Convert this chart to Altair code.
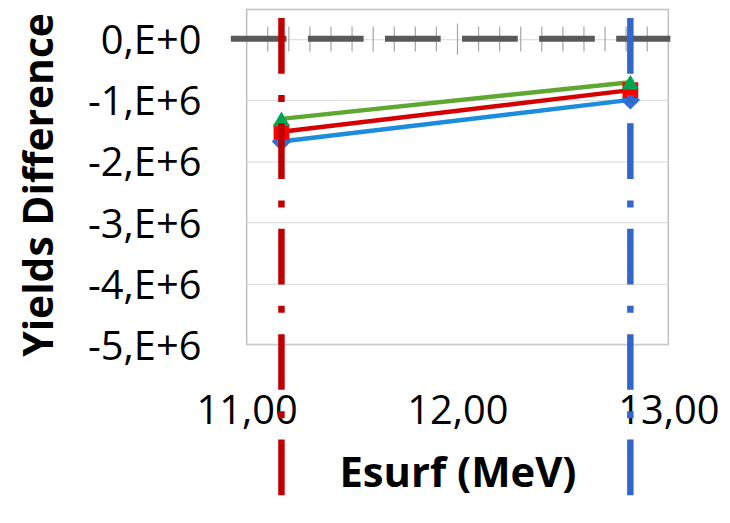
import altair as alt
import pandas as pd

# ---- data ----
x_energy = [11.165, 12.82]
blue_vals = [-1.68e6, -1.00e6]
red_vals = [-1.52e6, -0.84e6]
green_vals = [-1.31e6, -0.71e6]

y_ticks = [0, -1e6, -2e6, -3e6, -4e6, -5e6]
y_tick_labels = ["0,E+0", "-1,E+6", "-2,E+6", "-3,E+6", "-4,E+6", "-5,E+6"]
x_ticks = [11, 12, 13]
x_tick_labels = ["11,00", "12,00", "13,00"]

minor_ticks = [11.1, 11.2, 11.3, 11.4, 11.5, 11.6, 11.7, 11.8, 11.9,
               12.1, 12.2, 12.3, 12.4, 12.5, 12.6, 12.7, 12.8, 12.9]
major_ticks = [12]

ref_lines_x = [11.165, 12.82]
ref_lines_color = ["#C00000", "#3366CC"]
ref_lines_top = 0.34e6
ref_lines_bottom = -8.0e6

zero_line_x = [10.925, 13.01]
zero_value = 0

# ---- helpers ----
def label_expr(vals, labels):
    expr = "''"
    for v, lab in reversed(list(zip(vals, labels))):
        expr = f"(abs(datum.value - ({v})) < 1e-6 ? '{lab}' : {expr})"
    return expr

FONT = "Open Sans"

xscale = alt.Scale(domain=[11, 13], nice=False, zero=False)
yscale = alt.Scale(domain=[-5e6, 0.48e6], nice=False, zero=False)

xaxis = alt.Axis(
    values=x_ticks, labelExpr=label_expr(x_ticks, x_tick_labels),
    labelFont=FONT, labelFontSize=40, labelColor="#000000", labelPadding=47,
    ticks=False, domain=False, grid=False,
    labelOverlap=False, labelBound=False, labelFlush=False,
    title="Esurf (MeV)", titleFont=FONT, titleFontWeight="bold", titleFontSize=42,
    titleColor="#000000", titleBaseline="alphabetic", titleY=143, titleX=212,
)
yaxis = alt.Axis(
    values=y_ticks, labelExpr=label_expr(y_ticks, y_tick_labels),
    labelFont=FONT, labelFontSize=40, labelColor="#000000", labelPadding=46,
    labelOffset=3, labelOverlap=False, labelBound=False, labelFlush=False,
    ticks=False, domain=False, grid=True, gridColor="#D9D9D9", gridWidth=1,
    title="Yields Difference", titleFont=FONT, titleFontWeight="bold", titleFontSize=41,
    titleColor="#000000", titleAngle=270, titleAlign="center", titleBaseline="alphabetic",
    titleX=-195, titleY=176,
)

X = alt.X("x:Q", scale=xscale, axis=xaxis)
Y = alt.Y("y:Q", scale=yscale, axis=yaxis)

# axis tick marks crossing at y = 0
minor_df = pd.DataFrame({"x": minor_ticks, "y": [0.2e6] * len(minor_ticks),
                         "y2": [-0.21e6] * len(minor_ticks)})
major_df = pd.DataFrame({"x": major_ticks, "y": [0.25e6] * len(major_ticks),
                         "y2": [-0.26e6] * len(major_ticks)})
minor_layer = alt.Chart(minor_df).mark_rule(color="#A6A6A6", strokeWidth=1.2).encode(
    x=X, y=Y, y2="y2:Q")
major_layer = alt.Chart(major_df).mark_rule(color="#A6A6A6", strokeWidth=1.2).encode(
    x=X, y=Y, y2="y2:Q")

# dashed zero line
zero_df = pd.DataFrame({"x": [zero_line_x[0]], "x2": [zero_line_x[1]], "y": [zero_value]})
zero_layer = alt.Chart(zero_df).mark_rule(
    color="#595959", strokeWidth=6, strokeDash=[56, 21.5], clip=False, strokeCap="butt"
).encode(x=X, x2="x2:Q", y=Y)

layers = [minor_layer, major_layer, zero_layer]

series = [
    ("blue", blue_vals, "#1C8CDC", "#2F6FD2", "diamond", 380),
    ("red", red_vals, "#D40000", "#FF0000", "square", 250),
    ("green", green_vals, "#5EA832", "#00A651", "triangle-up", 300),
]
for name, vals, lcol, mcol, shape, size in series:
    df = pd.DataFrame({"x": x_energy, "y": vals})
    layers.append(alt.Chart(df).mark_line(color=lcol, strokeWidth=4.5).encode(x=X, y=Y))
for name, vals, lcol, mcol, shape, size in series:
    df = pd.DataFrame({"x": x_energy, "y": vals})
    layers.append(alt.Chart(df).mark_point(
        shape=shape, filled=True, size=size, color=mcol, opacity=1).encode(x=X, y=Y))

# vertical dash-dot reference lines
for xv, col in zip(ref_lines_x, ref_lines_color):
    df = pd.DataFrame({"x": [xv], "y": [ref_lines_top], "y2": [ref_lines_bottom]})
    layers.append(alt.Chart(df).mark_rule(
        color=col, strokeWidth=6.5, strokeDash=[56, 21.5, 7, 21.5], clip=False,
        strokeCap="butt").encode(x=X, y=Y, y2="y2:Q"))

chart = alt.layer(*layers).properties(
    width=424, height=337,
    autosize=alt.AutoSizeParams(type="none"),
    padding={"left": 240, "top": 0, "right": 54, "bottom": 162},
    background="white",
).configure_view(stroke="#BFBFBF", strokeWidth=1.5)

chart.save("out.html", embed_options={"renderer": "svg", "actions": False})
